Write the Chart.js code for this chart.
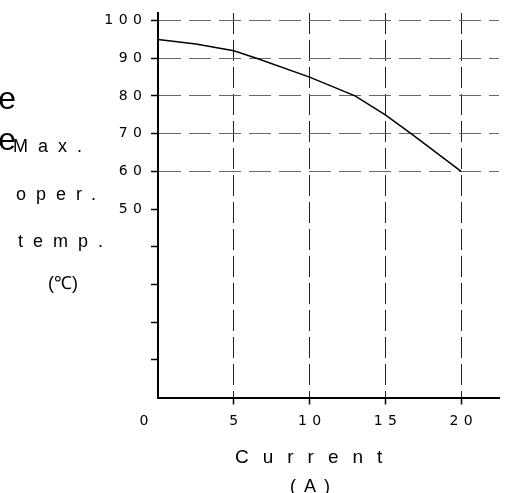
<!DOCTYPE html>
<html>
<head>
<meta charset="utf-8">
<script src="https://cdn.jsdelivr.net/npm/chart.js@4"></script>
<style>
  html, body { margin: 0; padding: 0; background: #fff; }
</style>
</head>
<body>
<canvas id="myChart" width="508" height="493"></canvas>
<script>
// curve
const currentA = [0, 2.5, 5, 6.5, 10, 13, 15, 16.7, 20];
const maxTemp = [95, 93.8, 92, 90, 85, 80, 75, 70, 60];

const xTicks = [0, 5, 10, 15, 20];
const yTicks = [0, 10, 20, 30, 40, 50, 60, 70, 80, 90, 100];
const yLabels = ["", "", "", "", "", "50", "60", "70", "80", "90", "100"];
const sideLabel = ["Max.", "oper.", "temp.", "(℃)"];
const xTitle = ["Current", "(A)"];

const FONT = "'Liberation Sans', Arial, sans-serif";
const TICKFONT = "'DejaVu Sans', sans-serif";
const none = "rgba(0,0,0,0)";

const points = currentA.map((x, i) => ({ x: x, y: maxTemp[i] }));

function txt(ctx, s, x, y, size, spacing, align) {
  ctx.font = size + "px " + FONT;
  ctx.letterSpacing = spacing + "px";
  ctx.textAlign = align || "left";
  ctx.textBaseline = "alphabetic";
  ctx.fillStyle = "#000";
  ctx.fillText(s, x, y);
}

const extraText = {
  id: "extraText",
  beforeUpdate(chart) { chart.ctx.letterSpacing = "5.5px"; },
  beforeDraw(chart) { chart.ctx.letterSpacing = "5.5px"; },
  afterDraw(chart) {
    const ctx = chart.ctx;
    ctx.save();
    // clipped ends of a bigger label on the far left
    txt(ctx, "e", 16, 109, 32, 0, "right");
    txt(ctx, "e", 16, 150, 32, 0, "right");
    txt(ctx, sideLabel[0], 13, 152, 18, 10);
    txt(ctx, sideLabel[1], 16, 200, 18, 10);
    txt(ctx, sideLabel[2], 18, 247, 18, 10);
    txt(ctx, sideLabel[3], 48, 289, 18, 0);
    txt(ctx, xTitle[0], 235, 463, 19, 14);
    txt(ctx, xTitle[1], 290, 492, 18, 8);
    // the 0 under the axis sits left of the corner
    const x0 = chart.scales.x.getPixelForValue(0);
    ctx.font = "14px " + TICKFONT;
    ctx.letterSpacing = "0px";
    ctx.textAlign = "center";
    ctx.textBaseline = "middle";
    ctx.fillText("0", x0 - 14, 421);
    ctx.restore();
  }
};

const config = {
  type: "line",
  data: {
    datasets: [{
      data: points,
      borderColor: "#000",
      borderWidth: 1.5,
      pointRadius: 0,
      tension: 0,
      fill: false
    }]
  },
  options: {
    responsive: false,
    animation: false,
    events: [],
    layout: { padding: { left: 0, top: 13, right: 9, bottom: 0 } },
    plugins: { legend: { display: false }, tooltip: { enabled: false } },
    scales: {
      x: {
        type: "linear",
        min: 0,
        max: 22.5,
        afterBuildTicks: (s) => { s.ticks = xTicks.map(v => ({ value: v })); },
        afterFit: (s) => { s.height = 95.5; },
        border: { color: "#000", width: 2, dash: [21, 6] },
        grid: {
          color: (c) => (c.tick && c.tick.value > 0 ? "#222" : none),
          lineWidth: 1,
          tickLength: 7,
          tickWidth: 1.5,
          tickColor: (c) => (c.tick && c.tick.value > 0 ? "#000" : none),
          tickBorderDash: []
        },
        ticks: {
          autoSkip: false,
          maxRotation: 0,
          padding: 8,
          labelOffset: 2.75,
          color: "#000",
          font: { family: TICKFONT, size: 14 },
          callback: (v) => (v === 0 ? "" : String(v))
        }
      },
      y: {
        type: "linear",
        min: 0,
        max: 102,
        afterBuildTicks: (s) => { s.ticks = yTicks.map(v => ({ value: v })); },
        afterFit: (s) => { s.width = 158; },
        border: { color: "#000", width: 2, dash: [22, 8] },
        grid: {
          color: (c) => (c.tick && c.tick.value >= 60 ? "#666" : none),
          lineWidth: 1,
          tickLength: 7,
          tickWidth: 1.5,
          tickColor: (c) => (c.tick && c.tick.value > 0 ? "#000" : none),
          tickBorderDash: []
        },
        ticks: {
          autoSkip: false,
          padding: 3.5,
          color: "#000",
          font: { family: TICKFONT, size: 14 },
          callback: (v) => yLabels[yTicks.indexOf(v)]
        }
      }
    }
  },
  plugins: [extraText]
};

const myChart = new Chart(document.getElementById("myChart"), config);
</script>
</body>
</html>
